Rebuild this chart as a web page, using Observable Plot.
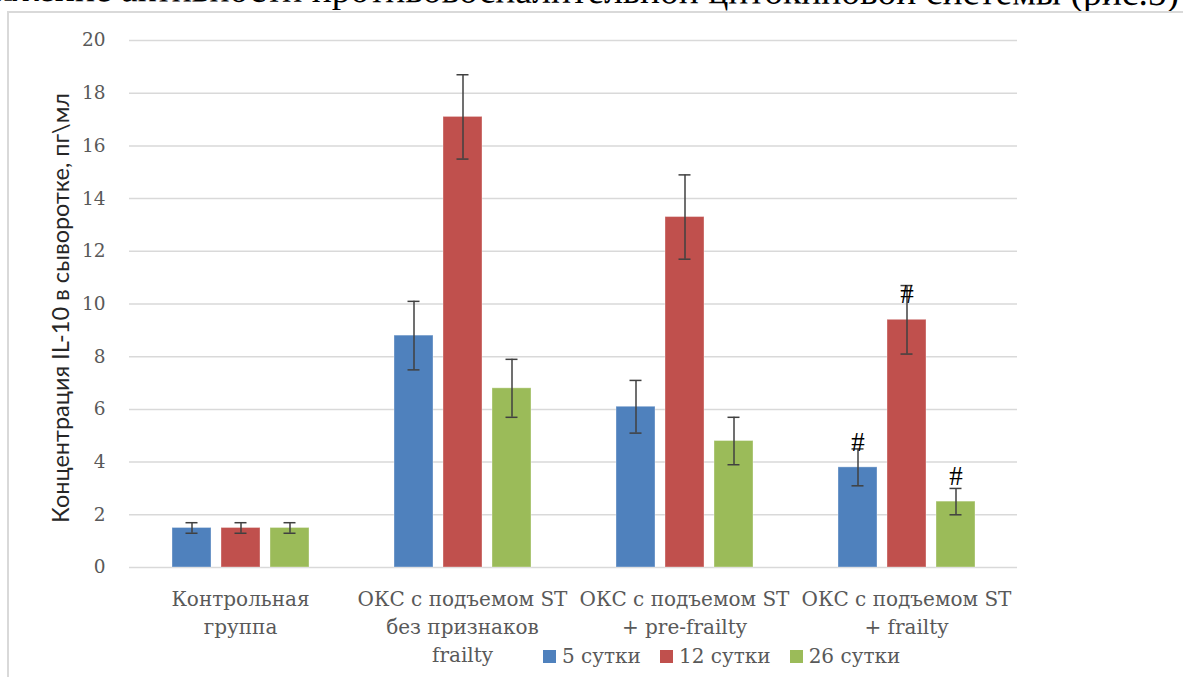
<!DOCTYPE html>
<html>
<head>
<meta charset="utf-8">
<script src="https://cdn.jsdelivr.net/npm/d3@7"></script>
<script src="https://cdn.jsdelivr.net/npm/@observablehq/plot@0.6"></script>
<style>
  html, body { margin: 0; padding: 0; background: #fff; }
  #page { position: relative; width: 1183px; height: 677px; overflow: hidden; background: #fff; }
  #lead { position: absolute; right: 4px; top: -26px; white-space: nowrap; line-height: 1;
          font-family: "Liberation Serif", serif; font-size: 37.5px; color: #000;
          transform: rotate(0.2deg); transform-origin: 100% 100%; }
  #frame { position: absolute; left: 7px; top: 11px; width: 1300px; height: 800px;
           border-left: 2px solid #d9d9d9; border-top: 2px solid #d9d9d9; }
  #chart { position: absolute; left: 0; top: 0; }
  #ylabel { position: absolute; left: 60px; top: 308px; transform: translate(-50%, -50%) rotate(-90deg);
            white-space: nowrap; font-family: Lato, sans-serif; font-size: 23.5px; color: #262626; }
  #legend { position: absolute; left: 543px; top: 644px; display: flex; gap: 19px;
            font-family: "DejaVu Serif", serif; font-size: 20px; color: #595959; }
  #legend span { display: inline-flex; align-items: center; }
  #legend i { display: inline-block; width: 13px; height: 13px; margin-right: 6px; }
</style>
</head>
<body>
<div id="page">
  <div id="lead">снижение активности противовоспалительной цитокиновой системы (рис.5)</div>
  <div id="frame"></div>
  <div id="chart"></div>
  <div id="ylabel"></div>
  <div id="legend"></div>
</div>
<script>
// Patient groups (category axis) and their multi-line labels
const groups = ["control", "stemi", "prefrail", "frail"];
const groupLabels = [
  "Контрольная\nгруппа",
  "ОКС с подъемом ST\nбез признаков\nfrailty",
  "ОКС с подъемом ST\n+ pre-frailty",
  "ОКС с подъемом ST\n+ frailty"
];
// Sampling days (series)
const series = ["5 сутки", "12 сутки", "26 сутки"];
const seriesColors = ["#4F81BD", "#C0504D", "#9BBB59"];

// IL-10 concentration, pg/ml (one array per series, one value per group)
const day5  = [1.5, 8.8, 6.1, 3.8];
const day12 = [1.5, 17.1, 13.3, 9.4];
const day26 = [1.5, 6.8, 4.8, 2.5];
// Error bar half-widths
const err5  = [0.2, 1.3, 1.0, 0.7];
const err12 = [0.2, 1.6, 1.6, 1.3];
const err26 = [0.2, 1.1, 0.9, 0.5];
// Significance marks ("#") per group and series
const mark5  = ["", "", "", "#"];
const mark12 = ["", "", "", "#"];
const mark26 = ["", "", "", "#"];

const yTicks = [0, 2, 4, 6, 8, 10, 12, 14, 16, 18, 20];
const yLabel = "Концентрация IL-10 в сыворотке, пг\\мл";

const values = [day5, day12, day26];
const errors = [err5, err12, err26];
const marks = [mark5, mark12, mark26];
const rows = [];
groups.forEach((g, gi) => {
  series.forEach((s, si) => {
    rows.push({group: g, series: s, value: values[si][gi], err: errors[si][gi], mark: marks[si][gi]});
  });
});

const serif = "'DejaVu Serif', serif";

const chart = Plot.plot({
  width: 1183,
  height: 677,
  marginTop: 40,
  marginBottom: 110,
  marginLeft: 128,
  marginRight: 166,
  style: {background: "transparent", fontFamily: serif},
  fx: {domain: groups, padding: 0, label: null},
  x: {domain: series, paddingInner: 0.21, paddingOuter: 0.85, axis: null},
  y: {domain: [0, 20], label: null},
  color: {domain: series, range: seriesColors},
  marks: [
    Plot.gridY(yTicks, {stroke: "#d9d9d9", strokeOpacity: 1, strokeWidth: 1.5}),
    Plot.axisY(yTicks, {tickSize: 0, tickPadding: 24, fontSize: 18.5, fill: "#595959", label: null,
                        fontFamily: serif}),
    Plot.axisFx({anchor: "bottom", tickSize: 0, tickPadding: 19, fontSize: 20, lineHeight: 1.4,
                 fill: "#595959", fontFamily: serif, label: null,
                 tickFormat: (d) => groupLabels[groups.indexOf(d)]}),
    Plot.barY(rows, {fx: "group", x: "series", y: "value", fill: "series",
                     stroke: "#ffffff", strokeOpacity: 0.35, strokeWidth: 1}),
    Plot.ruleX(rows, {fx: "group", x: "series", y1: (d) => d.value - d.err, y2: (d) => d.value + d.err,
                      stroke: "#404040", strokeWidth: 1.5}),
    Plot.tickY(rows, {fx: "group", x: "series", y: (d) => d.value + d.err, stroke: "#404040",
                      strokeWidth: 1.5, insetLeft: 13.5, insetRight: 13.5}),
    Plot.tickY(rows, {fx: "group", x: "series", y: (d) => d.value - d.err, stroke: "#404040",
                      strokeWidth: 1.5, insetLeft: 13.5, insetRight: 13.5}),
    Plot.text(rows.filter((d) => d.mark), {fx: "group", x: "series", y: "value", text: "mark",
                      dy: -25, fontSize: 27, fill: "#000", fontFamily: "'Liberation Serif', serif"})
  ]
});
document.getElementById("chart").appendChild(chart);

document.getElementById("ylabel").textContent = yLabel;
const legend = document.getElementById("legend");
series.forEach((s, i) => {
  const item = document.createElement("span");
  const sw = document.createElement("i");
  sw.style.background = seriesColors[i];
  item.appendChild(sw);
  item.appendChild(document.createTextNode(s));
  legend.appendChild(item);
});
</script>
</body>
</html>
